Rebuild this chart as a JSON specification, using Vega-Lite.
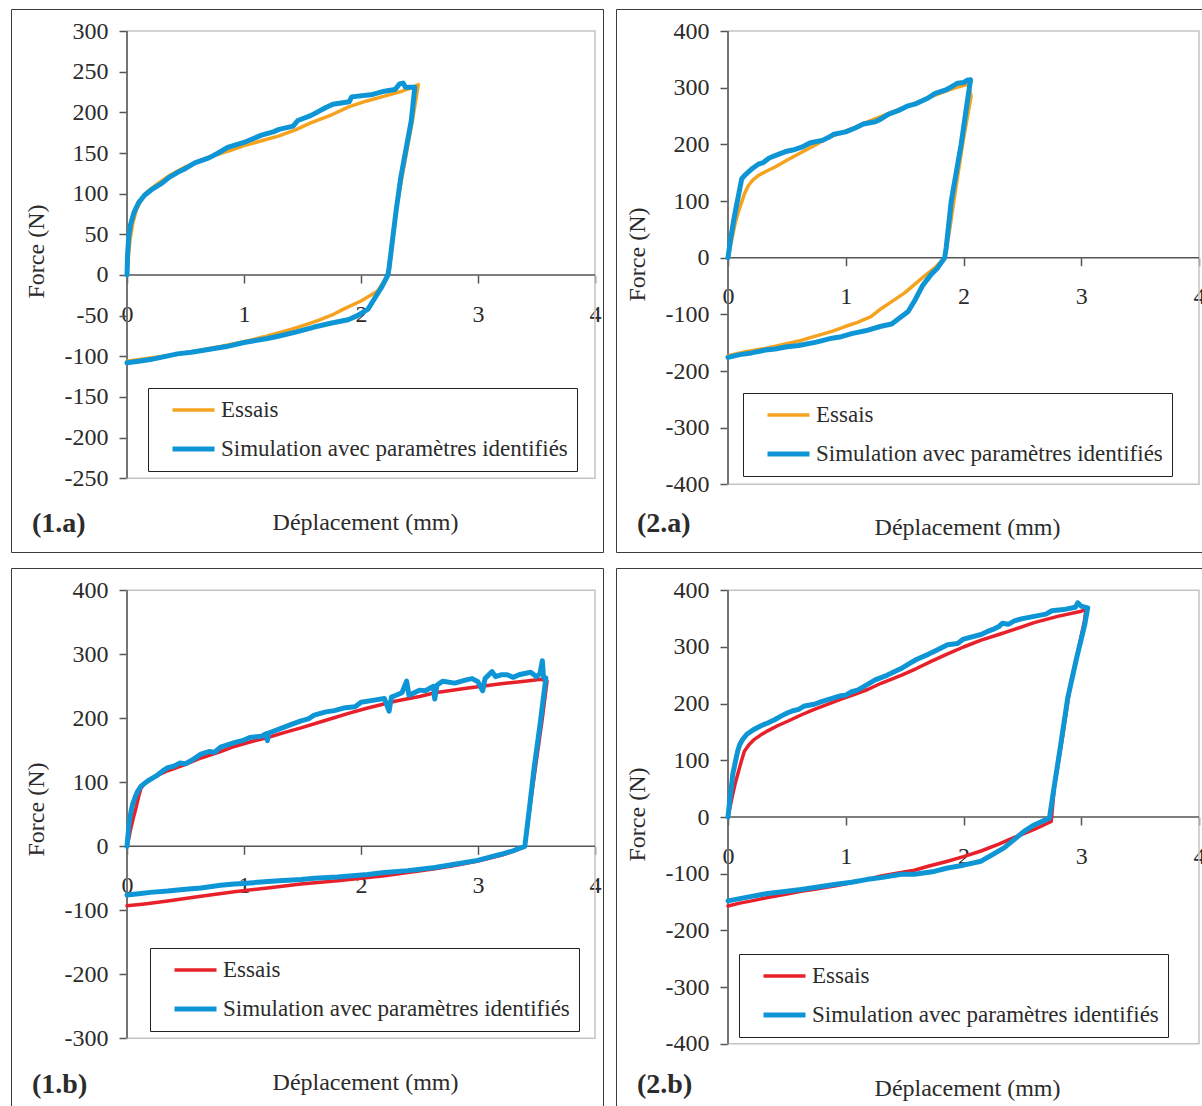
{
"$schema":"https://vega.github.io/schema/vega-lite/v6.json",
"background":"white",
"padding":{"left":10,"top":8,"right":0,"bottom":0},
"bounds":"flush",
"columns":2,
"spacing":{"row":16,"column":13},
"resolve":{"scale":{"x":"independent","y":"independent","color":"independent","strokeWidth":"independent"},"axis":{"x":"independent","y":"independent"},"legend":{"color":"independent","strokeWidth":"independent"}},
"config":{
 "view":{"stroke":"#3c3c3c","strokeWidth":1},
 "axis":{"labelFont":"Liberation Serif","labelFontSize":24,"labelColor":"#2b2b2b","titleFont":"Liberation Serif","titleFontSize":24,"titleFontWeight":"normal","titleColor":"#2b2b2b","tickColor":"#555555","tickWidth":1.5,"tickSize":8,"domain":false,"grid":false,"labelOverlap":false,"labelFlush":false,"labelBound":false},
 "legend":{"symbolType":"stroke","symbolSize":1764,"clipHeight":26,"rowPadding":13,"padding":9,"symbolOffset":13,"labelOffset":4,"strokeColor":"#222222","fillColor":"#ffffff","labelLimit":600,"labelFontSize":23,"labelFont":"Liberation Serif","labelColor":"#2b2b2b"},
 "title":{"font":"Liberation Serif","fontSize":28,"fontWeight":"bold","color":"#2b2b2b"}
},
"datasets":{
"p1a":[
{"s":"E","x":0,"y":0},{"s":"E","x":0.01,"y":20},{"s":"E","x":0.025,"y":42},{"s":"E","x":0.05,"y":64},{"s":"E","x":0.08,"y":80},{"s":"E","x":0.12,"y":92},{"s":"E","x":0.17,"y":102},{"s":"E","x":0.25,"y":111},{"s":"E","x":0.37,"y":123},{"s":"E","x":0.5,"y":133},{"s":"E","x":0.7,"y":145},{"s":"E","x":0.9,"y":154},{"s":"E","x":1.0,"y":159},{"s":"E","x":1.15,"y":165},{"s":"E","x":1.3,"y":171},{"s":"E","x":1.45,"y":179},{"s":"E","x":1.57,"y":187},{"s":"E","x":1.75,"y":197},{"s":"E","x":1.9,"y":207},{"s":"E","x":2.05,"y":214},{"s":"E","x":2.2,"y":220},{"s":"E","x":2.35,"y":226},{"s":"E","x":2.43,"y":230},{"s":"E","x":2.49,"y":234},{"s":"E","x":2.44,"y":190},{"s":"E","x":2.35,"y":120},{"s":"E","x":2.3,"y":79},{"s":"E","x":2.245,"y":9},{"s":"E","x":2.235,"y":0},{"s":"E","x":2.14,"y":-20},{"s":"E","x":2.0,"y":-32},{"s":"E","x":1.85,"y":-42},{"s":"E","x":1.77,"y":-48},{"s":"E","x":1.63,"y":-56},{"s":"E","x":1.55,"y":-60},{"s":"E","x":1.4,"y":-67},{"s":"E","x":1.2,"y":-75},{"s":"E","x":1.0,"y":-82},{"s":"E","x":0.8,"y":-88},{"s":"E","x":0.6,"y":-93},{"s":"E","x":0.4,"y":-98},{"s":"E","x":0.2,"y":-102},{"s":"E","x":0,"y":-106},
{"s":"S","x":0,"y":0},{"s":"S","x":0.005,"y":25},{"s":"S","x":0.015,"y":48},{"s":"S","x":0.03,"y":62},{"s":"S","x":0.06,"y":77},{"s":"S","x":0.1,"y":89},{"s":"S","x":0.15,"y":98},{"s":"S","x":0.22,"y":106},{"s":"S","x":0.3,"y":113},{"s":"S","x":0.36,"y":120},{"s":"S","x":0.43,"y":126},{"s":"S","x":0.5,"y":131},{"s":"S","x":0.58,"y":138},{"s":"S","x":0.7,"y":144},{"s":"S","x":0.78,"y":150},{"s":"S","x":0.86,"y":157},{"s":"S","x":1.0,"y":163},{"s":"S","x":1.05,"y":166},{"s":"S","x":1.15,"y":172},{"s":"S","x":1.25,"y":176},{"s":"S","x":1.3,"y":179},{"s":"S","x":1.42,"y":183},{"s":"S","x":1.46,"y":190},{"s":"S","x":1.57,"y":196},{"s":"S","x":1.7,"y":206},{"s":"S","x":1.76,"y":210},{"s":"S","x":1.9,"y":213},{"s":"S","x":1.92,"y":219},{"s":"S","x":2.1,"y":222},{"s":"S","x":2.2,"y":226},{"s":"S","x":2.29,"y":228},{"s":"S","x":2.33,"y":235},{"s":"S","x":2.36,"y":236},{"s":"S","x":2.38,"y":231},{"s":"S","x":2.46,"y":231},{"s":"S","x":2.43,"y":190},{"s":"S","x":2.34,"y":120},{"s":"S","x":2.3,"y":79},{"s":"S","x":2.24,"y":9},{"s":"S","x":2.23,"y":0},{"s":"S","x":2.18,"y":-14},{"s":"S","x":2.12,"y":-28},{"s":"S","x":2.06,"y":-42},{"s":"S","x":1.97,"y":-50},{"s":"S","x":1.89,"y":-55},{"s":"S","x":1.75,"y":-59},{"s":"S","x":1.6,"y":-64},{"s":"S","x":1.45,"y":-70},{"s":"S","x":1.3,"y":-75},{"s":"S","x":1.2,"y":-78},{"s":"S","x":1.0,"y":-83},{"s":"S","x":0.85,"y":-88},{"s":"S","x":0.72,"y":-91},{"s":"S","x":0.55,"y":-95},{"s":"S","x":0.43,"y":-97},{"s":"S","x":0.3,"y":-101},{"s":"S","x":0.2,"y":-104},{"s":"S","x":0.1,"y":-106},{"s":"S","x":0,"y":-108}
],
"p2a":[
{"s":"E","x":0,"y":0},{"s":"E","x":0.03,"y":30},{"s":"E","x":0.062,"y":62},{"s":"E","x":0.09,"y":82},{"s":"E","x":0.116,"y":98},{"s":"E","x":0.14,"y":113},{"s":"E","x":0.172,"y":127},{"s":"E","x":0.21,"y":137},{"s":"E","x":0.257,"y":145},{"s":"E","x":0.33,"y":153},{"s":"E","x":0.4,"y":160},{"s":"E","x":0.5,"y":172},{"s":"E","x":0.626,"y":186},{"s":"E","x":0.75,"y":200},{"s":"E","x":0.852,"y":212},{"s":"E","x":0.95,"y":220},{"s":"E","x":1.08,"y":230},{"s":"E","x":1.2,"y":241},{"s":"E","x":1.308,"y":250},{"s":"E","x":1.42,"y":259},{"s":"E","x":1.534,"y":268},{"s":"E","x":1.65,"y":278},{"s":"E","x":1.76,"y":287},{"s":"E","x":1.86,"y":295},{"s":"E","x":1.95,"y":301},{"s":"E","x":2.04,"y":306},{"s":"E","x":2.065,"y":285},{"s":"E","x":2.0,"y":210},{"s":"E","x":1.94,"y":130},{"s":"E","x":1.89,"y":60},{"s":"E","x":1.855,"y":15},{"s":"E","x":1.84,"y":0},{"s":"E","x":1.755,"y":-18},{"s":"E","x":1.67,"y":-32},{"s":"E","x":1.585,"y":-47},{"s":"E","x":1.5,"y":-62},{"s":"E","x":1.387,"y":-78},{"s":"E","x":1.3,"y":-90},{"s":"E","x":1.214,"y":-104},{"s":"E","x":1.1,"y":-114},{"s":"E","x":1.0,"y":-121},{"s":"E","x":0.883,"y":-130},{"s":"E","x":0.75,"y":-138},{"s":"E","x":0.62,"y":-146},{"s":"E","x":0.45,"y":-154},{"s":"E","x":0.317,"y":-160},{"s":"E","x":0.15,"y":-166},{"s":"E","x":0,"y":-173},
{"s":"S","x":0,"y":0},{"s":"S","x":0.02,"y":30},{"s":"S","x":0.045,"y":62},{"s":"S","x":0.07,"y":90},{"s":"S","x":0.088,"y":109},{"s":"S","x":0.116,"y":139},{"s":"S","x":0.14,"y":145},{"s":"S","x":0.172,"y":151},{"s":"S","x":0.21,"y":158},{"s":"S","x":0.257,"y":165},{"s":"S","x":0.3,"y":168},{"s":"S","x":0.35,"y":176},{"s":"S","x":0.4,"y":180},{"s":"S","x":0.45,"y":184},{"s":"S","x":0.5,"y":188},{"s":"S","x":0.55,"y":190},{"s":"S","x":0.626,"y":195},{"s":"S","x":0.7,"y":203},{"s":"S","x":0.8,"y":207},{"s":"S","x":0.852,"y":212},{"s":"S","x":0.9,"y":218},{"s":"S","x":1.0,"y":222},{"s":"S","x":1.08,"y":229},{"s":"S","x":1.15,"y":236},{"s":"S","x":1.25,"y":240},{"s":"S","x":1.3,"y":245},{"s":"S","x":1.36,"y":253},{"s":"S","x":1.45,"y":260},{"s":"S","x":1.53,"y":268},{"s":"S","x":1.6,"y":272},{"s":"S","x":1.7,"y":282},{"s":"S","x":1.76,"y":290},{"s":"S","x":1.85,"y":296},{"s":"S","x":1.9,"y":302},{"s":"S","x":1.95,"y":308},{"s":"S","x":2.0,"y":309},{"s":"S","x":2.03,"y":313},{"s":"S","x":2.06,"y":314},{"s":"S","x":2.037,"y":282},{"s":"S","x":1.98,"y":200},{"s":"S","x":1.896,"y":100},{"s":"S","x":1.853,"y":18},{"s":"S","x":1.84,"y":0},{"s":"S","x":1.78,"y":-18},{"s":"S","x":1.727,"y":-29},{"s":"S","x":1.65,"y":-50},{"s":"S","x":1.585,"y":-76},{"s":"S","x":1.53,"y":-95},{"s":"S","x":1.44,"y":-109},{"s":"S","x":1.39,"y":-117},{"s":"S","x":1.3,"y":-121},{"s":"S","x":1.166,"y":-129},{"s":"S","x":1.05,"y":-134},{"s":"S","x":0.95,"y":-140},{"s":"S","x":0.883,"y":-142},{"s":"S","x":0.75,"y":-149},{"s":"S","x":0.6,"y":-155},{"s":"S","x":0.5,"y":-157},{"s":"S","x":0.4,"y":-161},{"s":"S","x":0.317,"y":-163},{"s":"S","x":0.2,"y":-168},{"s":"S","x":0.1,"y":-171},{"s":"S","x":0,"y":-176}
],
"p1b":[
{"s":"E","x":0,"y":0},{"s":"E","x":0.015,"y":12},{"s":"E","x":0.034,"y":29},{"s":"E","x":0.055,"y":45},{"s":"E","x":0.077,"y":60},{"s":"E","x":0.1,"y":78},{"s":"E","x":0.12,"y":91},{"s":"E","x":0.15,"y":98},{"s":"E","x":0.177,"y":102},{"s":"E","x":0.25,"y":110},{"s":"E","x":0.348,"y":118},{"s":"E","x":0.5,"y":128},{"s":"E","x":0.632,"y":138},{"s":"E","x":0.8,"y":148},{"s":"E","x":0.917,"y":156},{"s":"E","x":1.05,"y":163},{"s":"E","x":1.202,"y":170},{"s":"E","x":1.35,"y":178},{"s":"E","x":1.487,"y":185},{"s":"E","x":1.7,"y":197},{"s":"E","x":1.9,"y":208},{"s":"E","x":2.057,"y":216},{"s":"E","x":2.3,"y":227},{"s":"E","x":2.5,"y":234},{"s":"E","x":2.632,"y":240},{"s":"E","x":2.9,"y":247},{"s":"E","x":3.197,"y":254},{"s":"E","x":3.4,"y":258},{"s":"E","x":3.538,"y":261},{"s":"E","x":3.59,"y":258},{"s":"E","x":3.55,"y":200},{"s":"E","x":3.5,"y":135},{"s":"E","x":3.45,"y":70},{"s":"E","x":3.41,"y":12},{"s":"E","x":3.4,"y":0},{"s":"E","x":3.3,"y":-8},{"s":"E","x":3.197,"y":-14},{"s":"E","x":3.0,"y":-23},{"s":"E","x":2.8,"y":-30},{"s":"E","x":2.632,"y":-35},{"s":"E","x":2.4,"y":-41},{"s":"E","x":2.2,"y":-46},{"s":"E","x":2.0,"y":-50},{"s":"E","x":1.8,"y":-54},{"s":"E","x":1.487,"y":-59},{"s":"E","x":1.202,"y":-65},{"s":"E","x":0.917,"y":-71},{"s":"E","x":0.632,"y":-78},{"s":"E","x":0.348,"y":-85.5},{"s":"E","x":0.15,"y":-90},{"s":"E","x":0,"y":-93},
{"s":"S","x":0,"y":0},{"s":"S","x":0.01,"y":20},{"s":"S","x":0.02,"y":39},{"s":"S","x":0.035,"y":55},{"s":"S","x":0.049,"y":66},{"s":"S","x":0.07,"y":77},{"s":"S","x":0.091,"y":86},{"s":"S","x":0.12,"y":94},{"s":"S","x":0.177,"y":102},{"s":"S","x":0.25,"y":110},{"s":"S","x":0.3,"y":117},{"s":"S","x":0.348,"y":123},{"s":"S","x":0.4,"y":125},{"s":"S","x":0.45,"y":130},{"s":"S","x":0.5,"y":129},{"s":"S","x":0.55,"y":134},{"s":"S","x":0.6,"y":140},{"s":"S","x":0.632,"y":144},{"s":"S","x":0.7,"y":148},{"s":"S","x":0.75,"y":147},{"s":"S","x":0.8,"y":155},{"s":"S","x":0.917,"y":162},{"s":"S","x":1.0,"y":166},{"s":"S","x":1.05,"y":170},{"s":"S","x":1.15,"y":172},{"s":"S","x":1.19,"y":176},{"s":"S","x":1.2,"y":165},{"s":"S","x":1.21,"y":177},{"s":"S","x":1.3,"y":183},{"s":"S","x":1.4,"y":190},{"s":"S","x":1.487,"y":196},{"s":"S","x":1.55,"y":199},{"s":"S","x":1.6,"y":205},{"s":"S","x":1.7,"y":210},{"s":"S","x":1.772,"y":212},{"s":"S","x":1.85,"y":216},{"s":"S","x":1.95,"y":218},{"s":"S","x":2.0,"y":225},{"s":"S","x":2.1,"y":228},{"s":"S","x":2.2,"y":231},{"s":"S","x":2.24,"y":211},{"s":"S","x":2.26,"y":233},{"s":"S","x":2.3,"y":236},{"s":"S","x":2.35,"y":240},{"s":"S","x":2.39,"y":258},{"s":"S","x":2.41,"y":236},{"s":"S","x":2.5,"y":244},{"s":"S","x":2.55,"y":243},{"s":"S","x":2.62,"y":250},{"s":"S","x":2.63,"y":230},{"s":"S","x":2.65,"y":252},{"s":"S","x":2.7,"y":258},{"s":"S","x":2.8,"y":255},{"s":"S","x":2.9,"y":260},{"s":"S","x":2.95,"y":262},{"s":"S","x":3.0,"y":257},{"s":"S","x":3.04,"y":243},{"s":"S","x":3.06,"y":262},{"s":"S","x":3.12,"y":273},{"s":"S","x":3.15,"y":265},{"s":"S","x":3.197,"y":268},{"s":"S","x":3.25,"y":268},{"s":"S","x":3.3,"y":264},{"s":"S","x":3.35,"y":268},{"s":"S","x":3.4,"y":270},{"s":"S","x":3.45,"y":272},{"s":"S","x":3.5,"y":265},{"s":"S","x":3.53,"y":270},{"s":"S","x":3.55,"y":290},{"s":"S","x":3.56,"y":264},{"s":"S","x":3.58,"y":263},{"s":"S","x":3.53,"y":190},{"s":"S","x":3.48,"y":123},{"s":"S","x":3.44,"y":60},{"s":"S","x":3.4,"y":0},{"s":"S","x":3.3,"y":-7},{"s":"S","x":3.197,"y":-12.5},{"s":"S","x":3.1,"y":-17},{"s":"S","x":2.997,"y":-22},{"s":"S","x":2.8,"y":-28},{"s":"S","x":2.632,"y":-33},{"s":"S","x":2.4,"y":-38},{"s":"S","x":2.2,"y":-41},{"s":"S","x":2.057,"y":-44},{"s":"S","x":1.8,"y":-48},{"s":"S","x":1.6,"y":-50},{"s":"S","x":1.487,"y":-52},{"s":"S","x":1.3,"y":-54},{"s":"S","x":1.202,"y":-55},{"s":"S","x":1.0,"y":-58},{"s":"S","x":0.917,"y":-59},{"s":"S","x":0.8,"y":-61},{"s":"S","x":0.632,"y":-65},{"s":"S","x":0.5,"y":-67},{"s":"S","x":0.348,"y":-70},{"s":"S","x":0.2,"y":-72},{"s":"S","x":0.1,"y":-74},{"s":"S","x":0,"y":-76}
],
"p2b":[
{"s":"E","x":0,"y":0},{"s":"E","x":0.02,"y":20},{"s":"E","x":0.04,"y":40},{"s":"E","x":0.06,"y":58},{"s":"E","x":0.082,"y":75},{"s":"E","x":0.11,"y":96},{"s":"E","x":0.139,"y":116},{"s":"E","x":0.18,"y":128},{"s":"E","x":0.224,"y":137},{"s":"E","x":0.28,"y":145},{"s":"E","x":0.337,"y":152},{"s":"E","x":0.42,"y":161},{"s":"E","x":0.507,"y":169},{"s":"E","x":0.62,"y":180},{"s":"E","x":0.733,"y":190},{"s":"E","x":0.85,"y":199},{"s":"E","x":0.96,"y":208},{"s":"E","x":1.07,"y":216},{"s":"E","x":1.186,"y":225},{"s":"E","x":1.3,"y":236},{"s":"E","x":1.47,"y":250},{"s":"E","x":1.6,"y":262},{"s":"E","x":1.73,"y":275},{"s":"E","x":1.865,"y":288},{"s":"E","x":2.0,"y":300},{"s":"E","x":2.15,"y":312},{"s":"E","x":2.3,"y":322},{"s":"E","x":2.432,"y":331},{"s":"E","x":2.6,"y":343},{"s":"E","x":2.8,"y":354},{"s":"E","x":3.0,"y":363},{"s":"E","x":3.04,"y":367},{"s":"E","x":3.027,"y":346},{"s":"E","x":2.97,"y":290},{"s":"E","x":2.913,"y":240},{"s":"E","x":2.84,"y":140},{"s":"E","x":2.771,"y":52},{"s":"E","x":2.745,"y":-8},{"s":"E","x":2.6,"y":-22},{"s":"E","x":2.432,"y":-36},{"s":"E","x":2.3,"y":-48},{"s":"E","x":2.149,"y":-60},{"s":"E","x":2.0,"y":-70},{"s":"E","x":1.865,"y":-78},{"s":"E","x":1.7,"y":-87},{"s":"E","x":1.582,"y":-94},{"s":"E","x":1.47,"y":-98},{"s":"E","x":1.3,"y":-104},{"s":"E","x":1.186,"y":-110},{"s":"E","x":1.0,"y":-118},{"s":"E","x":0.903,"y":-122},{"s":"E","x":0.75,"y":-127},{"s":"E","x":0.62,"y":-131},{"s":"E","x":0.5,"y":-136},{"s":"E","x":0.337,"y":-142},{"s":"E","x":0.2,"y":-148},{"s":"E","x":0.1,"y":-152},{"s":"E","x":0,"y":-157},
{"s":"S","x":0,"y":0},{"s":"S","x":0.015,"y":30},{"s":"S","x":0.03,"y":55},{"s":"S","x":0.04,"y":75},{"s":"S","x":0.06,"y":95},{"s":"S","x":0.082,"y":116},{"s":"S","x":0.1,"y":128},{"s":"S","x":0.125,"y":137},{"s":"S","x":0.16,"y":146},{"s":"S","x":0.224,"y":155},{"s":"S","x":0.28,"y":161},{"s":"S","x":0.337,"y":166},{"s":"S","x":0.4,"y":172},{"s":"S","x":0.45,"y":178},{"s":"S","x":0.507,"y":184},{"s":"S","x":0.56,"y":188},{"s":"S","x":0.6,"y":190},{"s":"S","x":0.65,"y":196},{"s":"S","x":0.733,"y":199},{"s":"S","x":0.8,"y":204},{"s":"S","x":0.85,"y":207},{"s":"S","x":0.96,"y":214},{"s":"S","x":1.0,"y":215},{"s":"S","x":1.05,"y":221},{"s":"S","x":1.1,"y":224},{"s":"S","x":1.186,"y":234},{"s":"S","x":1.25,"y":242},{"s":"S","x":1.3,"y":246},{"s":"S","x":1.35,"y":250},{"s":"S","x":1.47,"y":262},{"s":"S","x":1.55,"y":272},{"s":"S","x":1.6,"y":278},{"s":"S","x":1.7,"y":287},{"s":"S","x":1.75,"y":292},{"s":"S","x":1.865,"y":304},{"s":"S","x":1.95,"y":306},{"s":"S","x":2.0,"y":314},{"s":"S","x":2.149,"y":322},{"s":"S","x":2.2,"y":327},{"s":"S","x":2.25,"y":331},{"s":"S","x":2.3,"y":336},{"s":"S","x":2.33,"y":342},{"s":"S","x":2.38,"y":340},{"s":"S","x":2.432,"y":346},{"s":"S","x":2.5,"y":350},{"s":"S","x":2.6,"y":354},{"s":"S","x":2.7,"y":358},{"s":"S","x":2.75,"y":364},{"s":"S","x":2.85,"y":366},{"s":"S","x":2.95,"y":370},{"s":"S","x":2.97,"y":378},{"s":"S","x":3.0,"y":372},{"s":"S","x":3.055,"y":369},{"s":"S","x":3.03,"y":340},{"s":"S","x":2.96,"y":280},{"s":"S","x":2.885,"y":210},{"s":"S","x":2.82,"y":120},{"s":"S","x":2.76,"y":40},{"s":"S","x":2.73,"y":-2},{"s":"S","x":2.6,"y":-14},{"s":"S","x":2.517,"y":-25},{"s":"S","x":2.43,"y":-40},{"s":"S","x":2.347,"y":-54},{"s":"S","x":2.25,"y":-66},{"s":"S","x":2.149,"y":-78},{"s":"S","x":2.0,"y":-85},{"s":"S","x":1.865,"y":-90},{"s":"S","x":1.75,"y":-96},{"s":"S","x":1.582,"y":-101},{"s":"S","x":1.47,"y":-101},{"s":"S","x":1.3,"y":-107},{"s":"S","x":1.186,"y":-110},{"s":"S","x":1.05,"y":-115},{"s":"S","x":0.903,"y":-119},{"s":"S","x":0.75,"y":-124},{"s":"S","x":0.62,"y":-128},{"s":"S","x":0.5,"y":-131},{"s":"S","x":0.337,"y":-135},{"s":"S","x":0.2,"y":-140},{"s":"S","x":0.1,"y":-144},{"s":"S","x":0,"y":-148}
]
},
"concat":[
{
 "width":592,"height":543,
 "title":{"text":"(1.a)","orient":"bottom","anchor":"start","frame":"group","offset":-20,"dx":21,"baseline":"alphabetic"},
 "data":{"name":"p1a"},
 "layer":[
  {"data":{"values":[{}]},"mark":{"type":"rect","fillOpacity":0,"stroke":"#c4c4c4","strokeWidth":1.5},
   "encoding":{"x":{"datum":0,"scale":{"domain":[-0.99145,4.06838],"nice":false,"zero":false}},"x2":{"datum":4},"y":{"datum":-250,"scale":{"domain":[-340.6,327.07],"nice":false,"zero":false}},"y2":{"datum":300}}},
  {"data":{"values":[{}]},"mark":{"type":"rule","stroke":"#555555","strokeWidth":1.5},
   "encoding":{"x":{"datum":0,"scale":{"domain":[-0.99145,4.06838],"nice":false,"zero":false}},"y":{"datum":-250,"scale":{"domain":[-340.6,327.07],"nice":false,"zero":false}},"y2":{"datum":300}}},
  {"data":{"values":[{}]},"mark":{"type":"rule","stroke":"#555555","strokeWidth":1.5},
   "encoding":{"x":{"datum":0,"scale":{"domain":[-0.99145,4.06838],"nice":false,"zero":false}},"x2":{"datum":4},"y":{"datum":0,"scale":{"domain":[-340.6,327.07],"nice":false,"zero":false}}}},
  {"mark":{"type":"line","strokeJoin":"round","strokeCap":"round"},
   "encoding":{
    "x":{"field":"x","type":"quantitative","scale":{"domain":[-0.99145,4.06838],"nice":false,"zero":false},
      "axis":{"values":[0,1,2,3,4],"format":"d","offset":-277,"labelPadding":19,"title":"Déplacement (mm)","titleX":354,"titleY":247,"titleAlign":"center","titleBaseline":"middle","titleAngle":0}},
    "y":{"field":"y","type":"quantitative","scale":{"domain":[-340.6,327.07],"nice":false,"zero":false},
      "axis":{"values":[-250,-200,-150,-100,-50,0,50,100,150,200,250,300],"offset":-116,"labelPadding":11,"labelExpr":"datum.value < 0 ? '-' + abs(datum.value) : '' + datum.value","title":"Force (N)","titleX":-91,"titleY":242,"titleAlign":"center","titleBaseline":"middle","titleAngle":-90}},
    "order":{"value":null},
    "color":{"field":"s","type":"nominal","scale":{"domain":["E","S"],"range":["#F5A31F","#0E95D5"]},
      "legend":{"title":null,"orient":"none","legendX":137,"legendY":379,"labelExpr":"datum.value == 'E' ? 'Essais' : 'Simulation avec paramètres identifiés'"}},
    "strokeWidth":{"field":"s","type":"ordinal","scale":{"type":"ordinal","domain":["E","S"],"range":[3.5,5]},
      "legend":{"title":null,"orient":"none","legendX":137,"legendY":379,"labelExpr":"datum.value == 'E' ? 'Essais' : 'Simulation avec paramètres identifiés'"}}
   }}
 ]
},
{
 "width":588,"height":543,
 "title":{"text":"(2.a)","orient":"bottom","anchor":"start","frame":"group","offset":-20,"dx":21,"baseline":"alphabetic"},
 "data":{"name":"p2a"},
 "layer":[
  {"data":{"values":[{}]},"mark":{"type":"rect","fillOpacity":0,"stroke":"#c4c4c4","strokeWidth":1.5},
   "encoding":{"x":{"datum":0,"scale":{"domain":[-0.95117,4.04246],"nice":false,"zero":false}},"x2":{"datum":4},"y":{"datum":-400,"scale":{"domain":[-519.35,438.9],"nice":false,"zero":false}},"y2":{"datum":400}}},
  {"data":{"values":[{}]},"mark":{"type":"rule","stroke":"#555555","strokeWidth":1.5},
   "encoding":{"x":{"datum":0,"scale":{"domain":[-0.95117,4.04246],"nice":false,"zero":false}},"y":{"datum":-400,"scale":{"domain":[-519.35,438.9],"nice":false,"zero":false}},"y2":{"datum":400}}},
  {"data":{"values":[{}]},"mark":{"type":"rule","stroke":"#555555","strokeWidth":1.5},
   "encoding":{"x":{"datum":0,"scale":{"domain":[-0.95117,4.04246],"nice":false,"zero":false}},"x2":{"datum":4},"y":{"datum":0,"scale":{"domain":[-519.35,438.9],"nice":false,"zero":false}}}},
  {"mark":{"type":"line","strokeJoin":"round","strokeCap":"round"},
   "encoding":{
    "x":{"field":"x","type":"quantitative","scale":{"domain":[-0.95117,4.04246],"nice":false,"zero":false},
      "axis":{"values":[0,1,2,3,4],"format":"d","offset":-294.3,"labelPadding":19,"title":"Déplacement (mm)","titleX":351,"titleY":270,"titleAlign":"center","titleBaseline":"middle","titleAngle":0}},
    "y":{"field":"y","type":"quantitative","scale":{"domain":[-519.35,438.9],"nice":false,"zero":false},
      "axis":{"values":[-400,-300,-200,-100,0,100,200,300,400],"offset":-112,"labelPadding":11,"labelExpr":"datum.value < 0 ? '-' + abs(datum.value) : '' + datum.value","title":"Force (N)","titleX":-91,"titleY":245,"titleAlign":"center","titleBaseline":"middle","titleAngle":-90}},
    "order":{"value":null},
    "color":{"field":"s","type":"nominal","scale":{"domain":["E","S"],"range":["#F5A31F","#0E95D5"]},
      "legend":{"title":null,"orient":"none","legendX":127,"legendY":384,"labelExpr":"datum.value == 'E' ? 'Essais' : 'Simulation avec paramètres identifiés'"}},
    "strokeWidth":{"field":"s","type":"ordinal","scale":{"type":"ordinal","domain":["E","S"],"range":[3.5,5]},
      "legend":{"title":null,"orient":"none","legendX":127,"legendY":384,"labelExpr":"datum.value == 'E' ? 'Essais' : 'Simulation avec paramètres identifiés'"}}
   }}
 ]
},
{
 "width":592,"height":543,
 "title":{"text":"(1.b)","orient":"bottom","anchor":"start","frame":"group","offset":-18,"dx":21,"baseline":"alphabetic"},
 "data":{"name":"p1b"},
 "layer":[
  {"data":{"values":[{}]},"mark":{"type":"rect","fillOpacity":0,"stroke":"#c4c4c4","strokeWidth":1.5},
   "encoding":{"x":{"datum":0,"scale":{"domain":[-0.99145,4.06838],"nice":false,"zero":false}},"x2":{"datum":4},"y":{"datum":-300,"scale":{"domain":[-413.6,434.84],"nice":false,"zero":false}},"y2":{"datum":400}}},
  {"data":{"values":[{}]},"mark":{"type":"rule","stroke":"#555555","strokeWidth":1.5},
   "encoding":{"x":{"datum":0,"scale":{"domain":[-0.99145,4.06838],"nice":false,"zero":false}},"y":{"datum":-300,"scale":{"domain":[-413.6,434.84],"nice":false,"zero":false}},"y2":{"datum":400}}},
  {"data":{"values":[{}]},"mark":{"type":"rule","stroke":"#555555","strokeWidth":1.5},
   "encoding":{"x":{"datum":0,"scale":{"domain":[-0.99145,4.06838],"nice":false,"zero":false}},"x2":{"datum":4},"y":{"datum":0,"scale":{"domain":[-413.6,434.84],"nice":false,"zero":false}}}},
  {"mark":{"type":"line","strokeJoin":"round","strokeCap":"round"},
   "encoding":{
    "x":{"field":"x","type":"quantitative","scale":{"domain":[-0.99145,4.06838],"nice":false,"zero":false},
      "axis":{"values":[0,1,2,3,4],"format":"d","offset":-264.7,"labelPadding":19,"title":"Déplacement (mm)","titleX":354,"titleY":236,"titleAlign":"center","titleBaseline":"middle","titleAngle":0}},
    "y":{"field":"y","type":"quantitative","scale":{"domain":[-413.6,434.84],"nice":false,"zero":false},
      "axis":{"values":[-300,-200,-100,0,100,200,300,400],"offset":-116,"labelPadding":11,"labelExpr":"datum.value < 0 ? '-' + abs(datum.value) : '' + datum.value","title":"Force (N)","titleX":-91,"titleY":241,"titleAlign":"center","titleBaseline":"middle","titleAngle":-90}},
    "order":{"value":null},
    "color":{"field":"s","type":"nominal","scale":{"domain":["E","S"],"range":["#E8202A","#0E95D5"]},
      "legend":{"title":null,"orient":"none","legendX":139,"legendY":380,"labelExpr":"datum.value == 'E' ? 'Essais' : 'Simulation avec paramètres identifiés'"}},
    "strokeWidth":{"field":"s","type":"ordinal","scale":{"type":"ordinal","domain":["E","S"],"range":[3.5,5]},
      "legend":{"title":null,"orient":"none","legendX":139,"legendY":380,"labelExpr":"datum.value == 'E' ? 'Essais' : 'Simulation avec paramètres identifiés'"}}
   }}
 ]
},
{
 "width":588,"height":543,
 "title":{"text":"(2.b)","orient":"bottom","anchor":"start","frame":"group","offset":-18,"dx":21,"baseline":"alphabetic"},
 "data":{"name":"p2b"},
 "layer":[
  {"data":{"values":[{}]},"mark":{"type":"rect","fillOpacity":0,"stroke":"#c4c4c4","strokeWidth":1.5},
   "encoding":{"x":{"datum":0,"scale":{"domain":[-0.95117,4.04246],"nice":false,"zero":false}},"x2":{"datum":4},"y":{"datum":-400,"scale":{"domain":[-518.8,439.4],"nice":false,"zero":false}},"y2":{"datum":400}}},
  {"data":{"values":[{}]},"mark":{"type":"rule","stroke":"#555555","strokeWidth":1.5},
   "encoding":{"x":{"datum":0,"scale":{"domain":[-0.95117,4.04246],"nice":false,"zero":false}},"y":{"datum":-400,"scale":{"domain":[-518.8,439.4],"nice":false,"zero":false}},"y2":{"datum":400}}},
  {"data":{"values":[{}]},"mark":{"type":"rule","stroke":"#555555","strokeWidth":1.5},
   "encoding":{"x":{"datum":0,"scale":{"domain":[-0.95117,4.04246],"nice":false,"zero":false}},"x2":{"datum":4},"y":{"datum":0,"scale":{"domain":[-518.8,439.4],"nice":false,"zero":false}}}},
  {"mark":{"type":"line","strokeJoin":"round","strokeCap":"round"},
   "encoding":{
    "x":{"field":"x","type":"quantitative","scale":{"domain":[-0.95117,4.04246],"nice":false,"zero":false},
      "axis":{"values":[0,1,2,3,4],"format":"d","offset":-294,"labelPadding":19,"title":"Déplacement (mm)","titleX":351,"titleY":271,"titleAlign":"center","titleBaseline":"middle","titleAngle":0}},
    "y":{"field":"y","type":"quantitative","scale":{"domain":[-518.8,439.4],"nice":false,"zero":false},
      "axis":{"values":[-400,-300,-200,-100,0,100,200,300,400],"offset":-112,"labelPadding":11,"labelExpr":"datum.value < 0 ? '-' + abs(datum.value) : '' + datum.value","title":"Force (N)","titleX":-91,"titleY":246,"titleAlign":"center","titleBaseline":"middle","titleAngle":-90}},
    "order":{"value":null},
    "color":{"field":"s","type":"nominal","scale":{"domain":["E","S"],"range":["#E8202A","#0E95D5"]},
      "legend":{"title":null,"orient":"none","legendX":123,"legendY":386,"labelExpr":"datum.value == 'E' ? 'Essais' : 'Simulation avec paramètres identifiés'"}},
    "strokeWidth":{"field":"s","type":"ordinal","scale":{"type":"ordinal","domain":["E","S"],"range":[3.5,5]},
      "legend":{"title":null,"orient":"none","legendX":123,"legendY":386,"labelExpr":"datum.value == 'E' ? 'Essais' : 'Simulation avec paramètres identifiés'"}}
   }}
 ]
}
]
}
